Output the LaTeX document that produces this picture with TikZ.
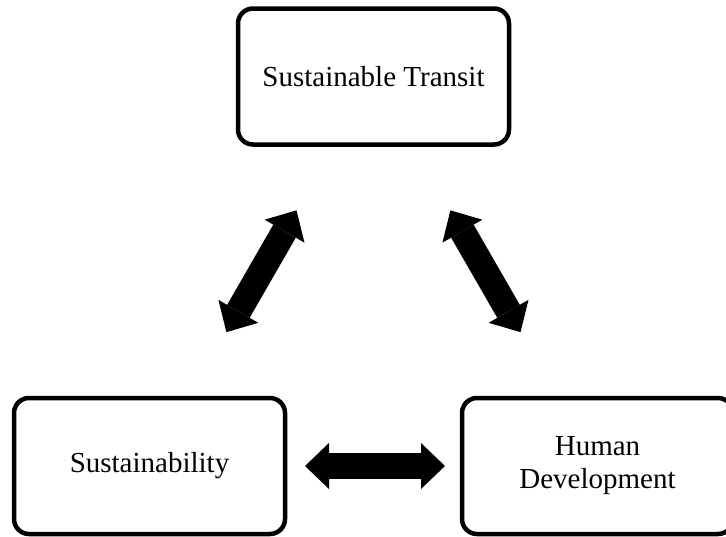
\documentclass[tikz,border=0pt]{standalone}
\usepackage{fontspec}
\setmainfont{Liberation Serif}
\usetikzlibrary{arrows.meta}
\tikzset{
  head/.style={Triangle[width=46pt,length=24pt,line width=0pt]}
}

\begin{document}
\begin{tikzpicture}[x=1pt,y=1pt,
    main/.style = {draw, line width=4.5pt, rounded corners=15pt, minimum width=271pt,
      minimum height=136pt, outer sep=0pt, align=center, font=\fontsize{29}{33}\selectfont},
    both/.style = {line width=26pt, {Triangle[width=46pt,length=24pt,line width=0pt]}-{Triangle[width=46pt,length=24pt,line width=0pt]}}]
      \useasboundingbox (0,0) rectangle (726,-536);
      \node[main](1) at (373.5,-76.5){Sustainable Transit};
      \node[main](2) at (149.5,-466){Sustainability};
      \node[main](3) at (597.5,-466){Human\\Development};

      \path[both]
      (2) edge[shorten <=76pt, shorten >=76pt] (1)
      (1) edge[shorten <=76pt, shorten >=76pt] (3)
      (2) edge[shorten <=20pt, shorten >=17pt] (3)
      ;

    \end{tikzpicture}
\end{document}
